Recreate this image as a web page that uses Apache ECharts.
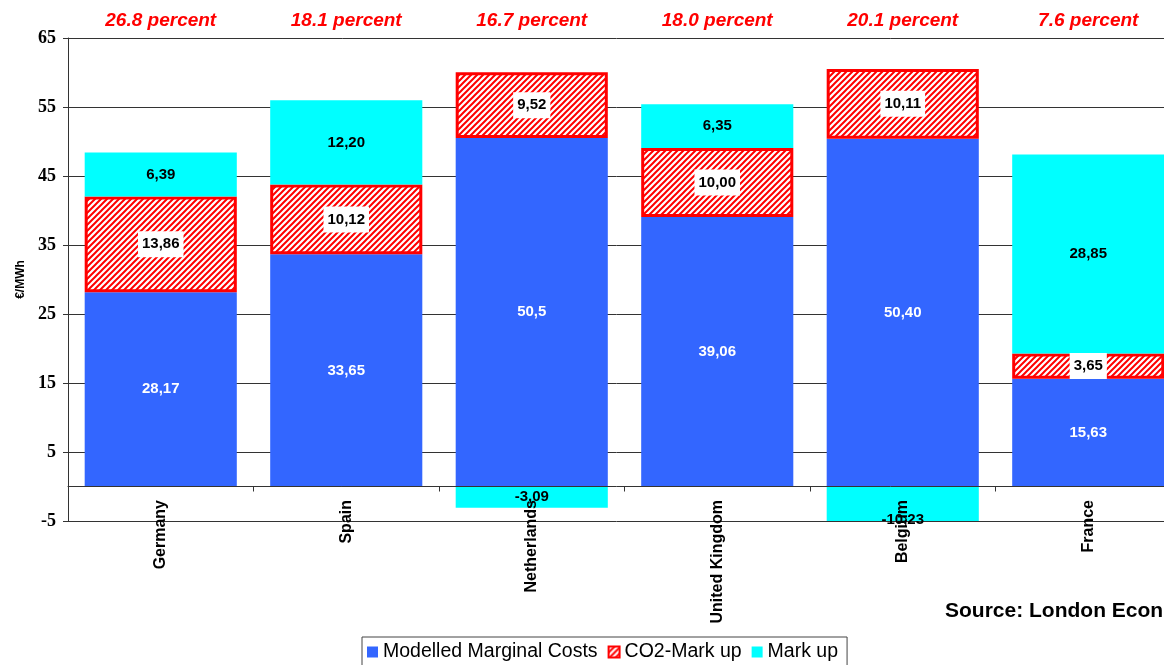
<!DOCTYPE html>
<html>
<head>
<meta charset="utf-8">
<script src="https://cdn.jsdelivr.net/npm/echarts@6/dist/echarts.min.js"></script>
<style>html,body{margin:0;padding:0;background:#fff;}#c{width:1164px;height:665px;}</style>
</head>
<body>
<div id="c"></div>
<script>
const categories = ['Germany', 'Spain', 'Netherlands', 'United Kingdom', 'Belgium', 'France'];
const percentLabels = ['26.8 percent', '18.1 percent', '16.7 percent', '18.0 percent', '20.1 percent', '7.6 percent'];
const mmcValues = [28.17, 33.65, 50.5, 39.06, 50.40, 15.63];
const co2Values = [13.86, 10.12, 9.52, 10.00, 10.11, 3.65];
const markupValues = [6.39, 12.20, -3.09, 6.35, -10.23, 28.85];
const mmcLabels = ['28,17', '33,65', '50,5', '39,06', '50,40', '15,63'];
const co2Labels = ['13,86', '10,12', '9,52', '10,00', '10,11', '3,65'];
const markupLabels = ['6,39', '12,20', '-3,09', '6,35', '-10,23', '28,85'];
const yMin = -5, yMax = 65, yInterval = 10;

// hatch pattern
const pc = document.createElement('canvas');
pc.width = 6; pc.height = 6;
const g = pc.getContext('2d');
g.fillStyle = '#ffffff'; g.fillRect(0, 0, 6, 6);
g.strokeStyle = '#ff0000'; g.lineWidth = 2;
g.beginPath();
g.moveTo(-1, 7); g.lineTo(7, -1);
g.moveTo(-4, 4); g.lineTo(4, -4);
g.moveTo(2, 10); g.lineTo(10, 2);
g.stroke();

const chart = echarts.init(document.getElementById('c'));
const sans = "'Liberation Sans', Arial, sans-serif";
const serif = "'Liberation Serif', 'Times New Roman', serif";

const markupData = markupValues.map((v, i) => {
  const item = { value: v };
  if (v < yMin) item.label = { offset: [0, 16] };
  return item;
});

chart.setOption({
  animation: false,
  backgroundColor: '#ffffff',
  grid: { left: 68, top: 38, bottom: 144, width: 1113, outerBoundsMode: 'none', containLabel: false },
  legend: {
    left: 362, top: 637,
    padding: [5, 9, 12, 5],
    borderColor: '#444', borderWidth: 1,
    itemWidth: 11, itemHeight: 11, itemGap: 10,
    icon: 'rect',
    textStyle: { fontFamily: sans, fontSize: 19.5, color: '#000' },
    data: ['Modelled Marginal Costs', 'CO2-Mark up', 'Mark up']
  },
  graphic: [{
    type: 'text', left: 945, top: 601,
    style: { text: 'Source: London Economics', fontFamily: sans, fontWeight: 'bold', fontSize: 21, fill: '#000' }
  }],
  xAxis: [{
    type: 'category', data: categories, z: 5,
    axisLine: { onZero: true, lineStyle: { color: '#333', width: 1 } },
    axisTick: { show: true, length: 5, lineStyle: { color: '#333' } },
    axisLabel: { rotate: 90, margin: -21, fontFamily: sans, fontWeight: 'bold', fontSize: 16, color: '#000' }
  }, {
    type: 'category', data: percentLabels, position: 'top',
    axisLine: { show: false }, axisTick: { show: false },
    axisLabel: { margin: 8, fontFamily: sans, fontWeight: 'bold', fontStyle: 'italic', fontSize: 19, color: '#ff0000' }
  }],
  yAxis: {
    type: 'value', min: yMin, max: yMax, interval: yInterval,
    name: '€/MWh', nameLocation: 'middle', nameGap: 38,
    nameTextStyle: { fontFamily: sans, fontWeight: 'bold', fontSize: 12, color: '#000' },
    axisLine: { show: true, lineStyle: { color: '#333' } },
    axisTick: { show: true, length: 5, lineStyle: { color: '#333' } },
    splitLine: { show: true, lineStyle: { color: '#333', width: 1 } },
    axisLabel: { margin: 12, fontFamily: serif, fontWeight: 'bold', fontSize: 18, color: '#000' }
  },
  series: [{
    name: 'Modelled Marginal Costs', type: 'bar', stack: 'a', data: mmcValues,
    barCategoryGap: '18%',
    itemStyle: { color: '#3366ff' },
    label: { show: true, position: 'inside', formatter: p => mmcLabels[p.dataIndex],
      fontFamily: sans, fontWeight: 'bold', fontSize: 15, color: '#fff' }
  }, {
    name: 'CO2-Mark up', type: 'bar', stack: 'a', data: co2Values,
    itemStyle: { color: { image: pc, repeat: 'repeat' }, borderColor: '#ff0000', borderWidth: 3 },
    label: { show: true, position: 'inside', formatter: p => co2Labels[p.dataIndex],
      fontFamily: sans, fontWeight: 'bold', fontSize: 15, color: '#000', backgroundColor: '#fff', padding: [6, 4, 5, 4] }
  }, {
    name: 'Mark up', type: 'bar', stack: 'a', data: markupData,
    itemStyle: { color: '#00ffff' },
    label: { show: true, position: 'inside', formatter: p => markupLabels[p.dataIndex],
      fontFamily: sans, fontWeight: 'bold', fontSize: 15, color: '#000' }
  }]
});
</script>
</body>
</html>
